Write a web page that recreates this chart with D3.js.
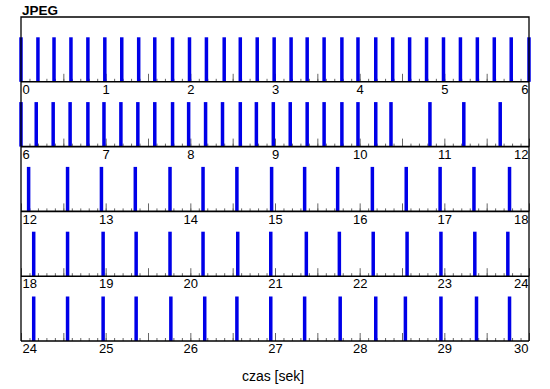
<!DOCTYPE html>
<head>
    <meta charset="utf-8">
    <style>
        body { margin: 0; background: #fff; }
        text { font-family: "Liberation Sans", Arial, sans-serif; }
        .frame-bar { fill: #0000e8; }
        .minor line, .major line { stroke: #666; stroke-width: 1px; }
        .minor path, .major path { display: none; }
        .major text { font-size: 13px; fill: #000; }
        .baseline, .border { stroke: #000; fill: none; }
        .title { font-size: 13.5px; font-weight: bold; }
        .xlabel { font-size: 14px; }
    </style>
</head>

<body>
    <script src="https://d3js.org/d3.v7.min.js"></script>

    <script>
        // start of each 6 second row
        var rowStarts = [0, 6, 12, 18, 24];
        var rowLength = 6;

        // times [s] at which a frame arrived
        var frameTimes = [
            0, 0.2, 0.39, 0.59, 0.79, 0.99, 1.19, 1.39, 1.58, 1.79,
            1.99, 2.19, 2.4, 2.59, 2.79, 2.99, 3.19, 3.38, 3.58, 3.79,
            3.98, 4.19, 4.39, 4.59, 4.79, 4.99, 5.19, 5.39, 5.59, 5.79,
            6.0, 6.18, 6.38, 6.58, 6.79, 6.98, 7.18, 7.38, 7.58, 7.79,
            7.98, 8.18, 8.38, 8.59, 8.78, 8.98, 9.18, 9.38, 9.58, 9.79,
            9.98, 10.19, 10.37, 10.83, 11.23, 11.66,
            12.09, 12.55, 12.95, 13.35, 13.76, 14.15, 14.55, 14.96, 15.35, 15.74,
            16.15, 16.55, 16.95, 17.35, 17.77,
            18.15, 18.55, 18.97, 19.36, 19.76, 20.15, 20.56, 20.95, 21.37, 21.76,
            22.16, 22.56, 22.96, 23.36, 23.75,
            24.15, 24.55, 24.97, 25.36, 25.77, 26.17, 26.55, 26.95, 27.35, 27.77,
            28.19, 28.54, 28.96, 29.38, 29.77
        ];
        var barValue = 1;

        var width = 550,
            height = 389,
            plotLeft = 21,
            plotRight = 529,
            plotTop = 17,
            rowHeight = 64.8,
            barWidth = 3.5;

        var svg = d3.select("body").append("svg")
            .attr("width", width)
            .attr("height", height);

        rowStarts.forEach(function(start, i) {
            var y0 = plotTop + i * rowHeight,
                y1 = y0 + rowHeight;

            var x = d3.scaleLinear().domain([start, start + rowLength]).range([plotLeft, plotRight]);
            var y = d3.scaleLinear().domain([0, 1.456]).range([y1, y0]);

            var g = svg.append("g");

            //small ticks every 0.1 s
            g.append("g")
                .attr("class", "minor")
                .attr("transform", "translate(0," + y1 + ")")
                .call(d3.axisBottom(x)
                    .tickValues(d3.range(0, 61).map(function(k) { return start + k / 10; }))
                    .tickSize(-3)
                    .tickFormat(""));

            //bigger ticks every 0.5 s, labels on whole seconds
            var major = g.append("g")
                .attr("class", "major")
                .attr("transform", "translate(0," + y1 + ")")
                .call(d3.axisBottom(x)
                    .tickValues(d3.range(0, 13).map(function(k) { return start + k / 2; }))
                    .tickSize(-8)
                    .tickPadding(3)
                    .tickFormat(function(d) { return d % 1 === 0 ? d : ""; }));

            major.selectAll("text")
                .attr("text-anchor", function(d) {
                    if (d === start) return "start";
                    if (d === start + rowLength) return "end";
                    return "middle";
                })
                .attr("dx", function(d) {
                    if (d === start) return 1;
                    if (d === start + rowLength) return -1;
                    return 0;
                });

            //frame bars
            g.selectAll(".frame-bar")
                .data(frameTimes.filter(function(t) { return t >= start && t <= start + rowLength; }))
                .enter().append("rect")
                .attr("class", "frame-bar")
                .attr("x", function(d) { return x(d) - barWidth / 2; })
                .attr("width", barWidth)
                .attr("y", y(barValue))
                .attr("height", y(0) - y(barValue));

            //row baseline
            g.append("line")
                .attr("class", "baseline")
                .attr("x1", plotLeft).attr("x2", plotRight)
                .attr("y1", y1).attr("y2", y1)
                .style("stroke-width", 1.6);
        });

        var plotBottom = plotTop + rowStarts.length * rowHeight;

        //outer border
        svg.append("path")
            .attr("class", "border")
            .attr("d", "M" + plotLeft + "," + plotBottom + "V" + plotTop + "H" + plotRight + "V" + plotBottom)
            .style("stroke-width", 1.3);

        svg.append("text")
            .attr("class", "title")
            .attr("x", 22)
            .attr("y", 14.5)
            .text("JPEG");

        svg.append("text")
            .attr("class", "xlabel")
            .attr("x", 273)
            .attr("y", 381)
            .style("text-anchor", "middle")
            .text("czas [sek]");
    </script>
</body>
